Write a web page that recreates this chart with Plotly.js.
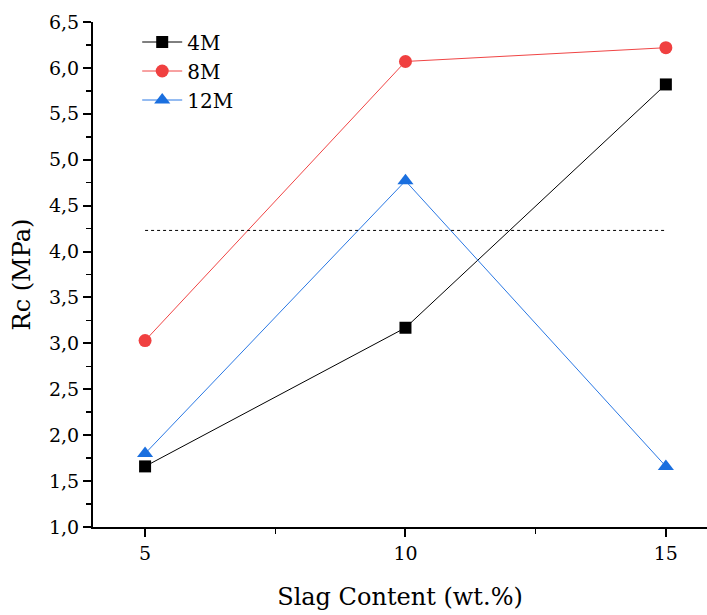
<!DOCTYPE html>
<html>
<head>
<meta charset="utf-8">
<script src="https://cdn.plot.ly/plotly-3.0.1.min.js"></script>
<style>html,body{margin:0;padding:0;background:#fff;}#chart{width:707px;height:615px;}</style>
</head>
<body>
<div id="chart"></div>
<script>
const slag = [5, 10, 15];
const rc4M = [1.66, 3.17, 5.82];
const rc8M = [3.03, 6.07, 6.22];
const rc12M = [1.80, 4.77, 1.66];
const refX = [5, 15];
const refY = [4.23, 4.23];
const yTicks = [1.0, 1.5, 2.0, 2.5, 3.0, 3.5, 4.0, 4.5, 5.0, 5.5, 6.0, 6.5];
const xTicks = [5, 10, 15];

const FONT = 'DejaVu Serif, Liberation Serif, serif';

const traces = [
  {x: slag, y: rc4M, name: '4M', mode: 'lines+markers',
   line: {color: '#000000', width: 1},
   marker: {symbol: 'square', size: 12, color: '#000000'}},
  {x: slag, y: rc8M, name: '8M', mode: 'lines+markers',
   line: {color: '#F04545', width: 1},
   marker: {symbol: 'circle', size: 13, color: '#F04040'}},
  {x: slag, y: rc12M, name: '12M', mode: 'lines+markers',
   line: {color: '#2A78E4', width: 1},
   marker: {symbol: 'triangle-up', size: 14, color: '#1A6FDF'}},
  {x: refX, y: refY, mode: 'lines', showlegend: false, hoverinfo: 'skip',
   line: {color: '#000000', width: 1, dash: 'dot'}}
];

const layout = {
  width: 707, height: 615,
  margin: {l: 93, r: 0, t: 22, b: 88},
  paper_bgcolor: '#ffffff', plot_bgcolor: '#ffffff',
  separators: ',.',
  font: {family: FONT, color: '#000000', size: 19},
  showlegend: true,
  legend: {x: 0.072, y: 0.999, xanchor: 'left', yanchor: 'top',
           bgcolor: 'rgba(0,0,0,0)', font: {size: 20, family: FONT},
           tracegroupgap: 0, itemwidth: 40},
  xaxis: {
    range: [4, 15.79], tickvals: xTicks, ticktext: xTicks.map(String),
    showgrid: false, zeroline: false, showline: true, linecolor: '#000', linewidth: 2,
    ticks: 'outside', ticklen: 8, tickwidth: 2, tickcolor: '#000',
    minor: {tickvals: [7.5, 12.5], ticks: 'outside', ticklen: 5, tickwidth: 1.5, tickcolor: '#000'},
    tickfont: {size: 19},
    title: {text: 'Slag Content (wt.%)', font: {size: 24}, standoff: 25}
  },
  yaxis: {
    range: [1.0, 6.5], tickvals: yTicks, ticktext: yTicks.map(v => v.toFixed(1).replace('.', ',')),
    showgrid: false, zeroline: false, showline: true, linecolor: '#000', linewidth: 2,
    ticks: 'outside', ticklen: 8, tickwidth: 2, tickcolor: '#000',
    minor: {dtick: 0.25, ticks: 'outside', ticklen: 5, tickwidth: 1.5, tickcolor: '#000'},
    tickfont: {size: 19},
    title: {text: 'Rc (MPa)', font: {size: 24}, standoff: 12}
  }
};

Plotly.newPlot('chart', traces, layout, {displayModeBar: false, staticPlot: true});
</script>
</body>
</html>
